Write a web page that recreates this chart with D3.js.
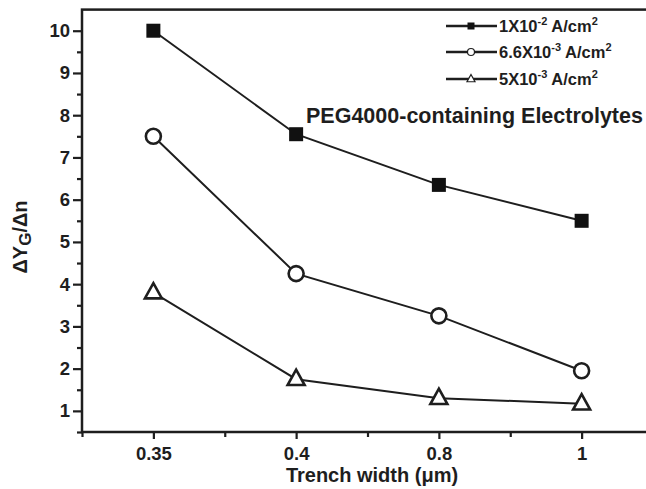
<!DOCTYPE html>
<html>
<head>
<meta charset="utf-8">
<script src="https://cdnjs.cloudflare.com/ajax/libs/d3/7.8.5/d3.min.js"></script>
<style>
    body { margin: 0; background: #fff; }
    text { font-family: "Liberation Sans", Arial, sans-serif; font-weight: bold; fill: #1e1e1e; }
</style>
</head>
<body>
<div id="chart"></div>
<script>
// trench widths (categorical, equally spaced on the plot)
const trenchWidths = ["0.35", "0.4", "0.8", "1"];

// ΔYG/Δn for each current density
const current1e2 = [10, 7.55, 6.35, 5.5];
const current66e3 = [7.5, 4.25, 3.25, 1.95];
const current5e3 = [3.8, 1.75, 1.3, 1.17];

const legendBase = ["1X10", "6.6X10", "5X10"];
const legendExp = ["-2", "-3", "-3"];
const markerTypes = ["square", "circle", "triangle"];

const yTicks = [1, 2, 3, 4, 5, 6, 7, 8, 9, 10];
const yMinorTicks = [0.5, 1.5, 2.5, 3.5, 4.5, 5.5, 6.5, 7.5, 8.5, 9.5];
const xMinorTicks = [-0.5, 0.5, 1.5, 2.5, 3.5];

const width = 646;
const height = 489;
const margin = {top: 9.6, right: -7, bottom: 57, left: 82};

const svg = d3.select("#chart")
              .append("svg")
              .attr("width", width)
              .attr("height", height);

const x = d3.scaleLinear()
            .domain([-0.5, 3.5])
            .range([margin.left, width - margin.right]);

const y = d3.scaleLinear()
            .domain([0.5, 10.5])
            .range([height - margin.bottom, margin.top]);

// frame (right side runs off the picture)
svg.append("rect")
   .attr("x", x(-0.5))
   .attr("y", y(10.5))
   .attr("width", x(3.5) - x(-0.5))
   .attr("height", y(0.5) - y(10.5))
   .attr("fill", "none")
   .attr("stroke", "#1e1e1e")
   .attr("stroke-width", 2.5);

// y axis
svg.append("g")
   .attr("transform", "translate(" + x(-0.5) + ",0)")
   .call(d3.axisLeft(y).tickValues(yTicks).tickSize(9).tickPadding(3).tickFormat(d3.format("d")));
svg.append("g")
   .attr("transform", "translate(" + x(-0.5) + ",0)")
   .call(d3.axisLeft(y).tickValues(yMinorTicks).tickSize(5).tickFormat(""));

// x axis
svg.append("g")
   .attr("transform", "translate(0," + y(0.5) + ")")
   .call(d3.axisBottom(x).tickValues([0, 1, 2, 3]).tickSize(7).tickPadding(8)
           .tickFormat(function (d) {
               return trenchWidths[d];
           }));
svg.append("g")
   .attr("transform", "translate(0," + y(0.5) + ")")
   .call(d3.axisBottom(x).tickValues(xMinorTicks).tickSize(5).tickFormat(""));

svg.selectAll(".domain").remove();
svg.selectAll(".tick line")
   .attr("stroke", "#1e1e1e")
   .attr("stroke-width", 2.2);
svg.selectAll(".tick text")
   .style("font-family", "'Liberation Sans', Arial, sans-serif")
   .style("font-weight", "bold")
   .style("font-size", "18.5px")
   .attr("fill", "#1e1e1e");

// series
const series = [current1e2, current66e3, current5e3];

const line = d3.line()
               .x(function (d, i) {
                   return x(i);
               })
               .y(function (d) {
                   return y(d);
               });

svg.selectAll("path.series")
   .data(series)
   .enter()
   .append("path")
   .attr("class", "series")
   .attr("d", line)
   .attr("fill", "none")
   .attr("stroke", "#1e1e1e")
   .attr("stroke-width", 2);

function drawMarker(g, type, cx, cy, s, sw) {
    if (type === "square") {
        g.append("rect")
         .attr("x", cx - s / 2)
         .attr("y", cy - s / 2)
         .attr("width", s)
         .attr("height", s)
         .attr("fill", "#111");
    } else if (type === "circle") {
        g.append("circle")
         .attr("cx", cx)
         .attr("cy", cy)
         .attr("r", s / 2)
         .attr("fill", "#fff")
         .attr("stroke", "#1e1e1e")
         .attr("stroke-width", sw);
    } else {
        const h = s * 0.9;
        g.append("path")
         .attr("d", "M" + cx + "," + (cy - h * 0.62) + "L" + (cx + s / 2) + "," + (cy + h * 0.38) +
                    "L" + (cx - s / 2) + "," + (cy + h * 0.38) + "Z")
         .attr("fill", "#fff")
         .attr("stroke", "#1e1e1e")
         .attr("stroke-width", sw)
         .attr("stroke-linejoin", "miter");
    }
}

const markerSize = [14, 15, 17];
series.forEach(function (values, k) {
    const g = svg.append("g");
    values.forEach(function (v, i) {
        drawMarker(g, markerTypes[k], x(i), y(v), markerSize[k], 2.6);
    });
});

// legend
const legendY = [26, 52, 79];
legendBase.forEach(function (label, k) {
    const g = svg.append("g");
    g.append("line")
     .attr("x1", 446)
     .attr("x2", 497)
     .attr("y1", legendY[k])
     .attr("y2", legendY[k])
     .attr("stroke", "#1e1e1e")
     .attr("stroke-width", 2.5);
    drawMarker(g, markerTypes[k], 471, legendY[k], k === 2 ? 8 : 7, 1.2);
    const t = g.append("text")
               .attr("x", 499)
               .attr("y", legendY[k] + 6)
               .style("font-size", "16.5px");
    t.append("tspan").text(label);
    t.append("tspan").attr("dy", -7).style("font-size", "11px").text(legendExp[k]);
    t.append("tspan").attr("dy", 7).text(" A/cm");
    t.append("tspan").attr("dy", -7).style("font-size", "11px").text("2");
});

svg.append("text")
   .attr("x", 306)
   .attr("y", 123)
   .style("font-size", "21.5px")
   .text("PEG4000-containing Electrolytes");

// axis titles
const yTitle = svg.append("text")
                  .attr("transform", "translate(27,237) rotate(-90)")
                  .attr("text-anchor", "middle")
                  .style("font-size", "20px");
yTitle.append("tspan").text("ΔY");
yTitle.append("tspan").attr("dy", 4).style("font-size", "17px").text("G");
yTitle.append("tspan").attr("dy", -4).text("/Δn");

svg.append("text")
   .attr("x", 372)
   .attr("y", 482)
   .attr("text-anchor", "middle")
   .style("font-size", "20px")
   .text("Trench width (μm)");
</script>
</body>
</html>
